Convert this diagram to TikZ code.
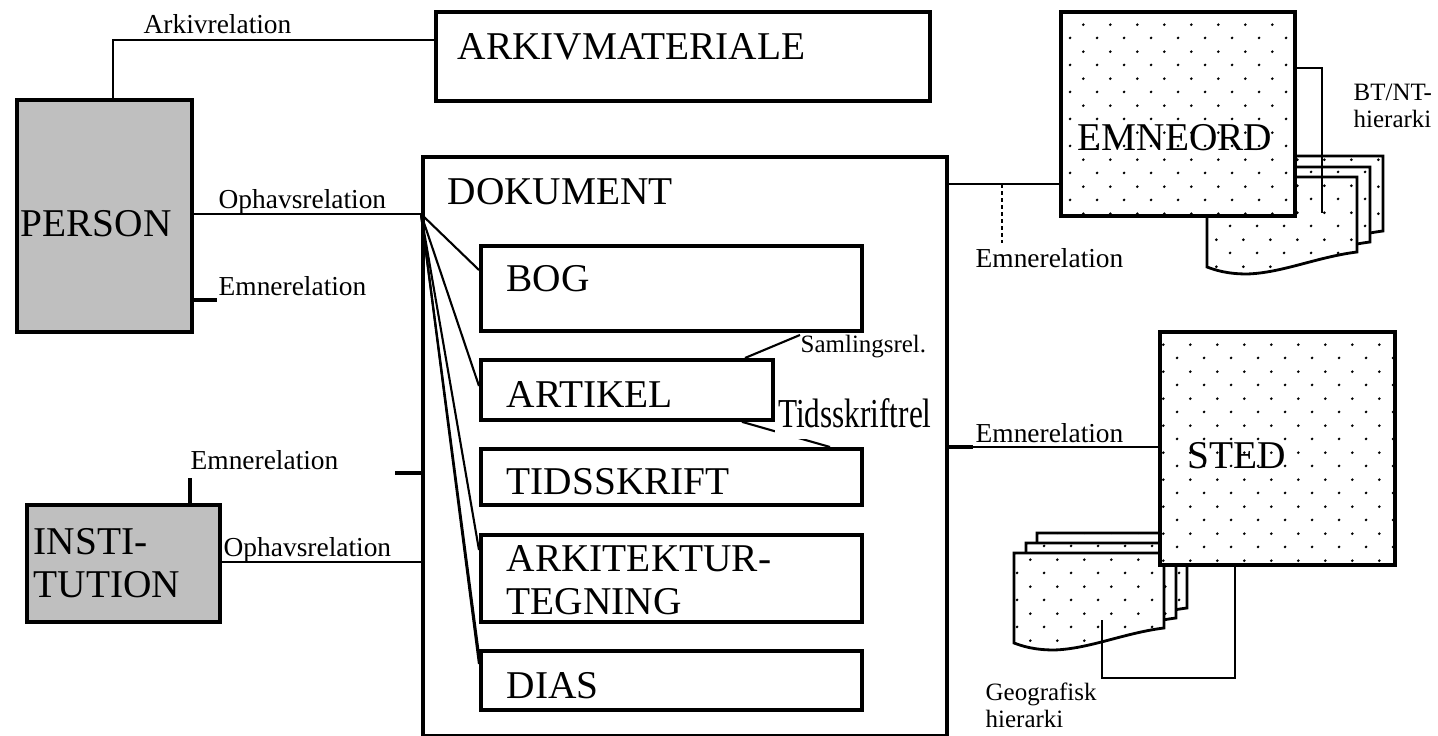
\documentclass[tikz,border=0pt]{standalone}
\usepackage{fontspec}
\setmainfont{Liberation Serif}
\newfontfamily\narrowserif[FakeStretch=0.76]{Liberation Serif}
\usetikzlibrary{patterns}

\pgfdeclarepatternformonly{sparsedots}{\pgfqpoint{0pt}{0pt}}{\pgfqpoint{7.6pt}{7.6pt}}{\pgfqpoint{7.6pt}{7.6pt}}{%
  \pgfpathcircle{\pgfqpoint{0.6pt}{0.6pt}}{0.42pt}%
  \pgfpathcircle{\pgfqpoint{4.4pt}{4.4pt}}{0.42pt}%
  \pgfusepath{fill}}

\tikzset{
  box/.style={draw,line width=1.1pt,inner sep=0pt,anchor=north west},
  actor/.style={box,fill=black!25},
  dotbox/.style={box,preaction={fill=white},pattern=sparsedots},
  bigtxt/.style={font=\fontsize{11.2}{12.5}\selectfont,inner sep=0pt,anchor=base west,align=left},
  reltxt/.style={font=\fontsize{7.8}{9}\selectfont,inner sep=0pt,anchor=base west},
  smalltxt/.style={font=\fontsize{7.1}{7.7}\selectfont,inner sep=0pt,anchor=base west,align=left},
  rel/.style={line width=0.6pt},
  stub/.style={line width=0.9pt},
  thinrel/.style={line width=0.4pt},
  docpage/.pic={\draw[line width=0.8pt,preaction={fill=white},pattern=sparsedots]
      (0,0) -- (150,0) -- (150,75) .. controls (110,80) and (75,96) .. (40,97)
      .. controls (20,97) and (8,93) .. (0,90) -- cycle;}
}

\begin{document}
\begin{tikzpicture}[x=0.1mm,y=-0.1mm]
  \useasboundingbox (0,0) rectangle (1438,736);

  % stakke bag emneord og sted
  \pic at (1233,156) {docpage};
  \pic at (1220,167) {docpage};
  \pic at (1207,177) {docpage};
  \pic at (1037,533) {docpage};
  \pic at (1026,543) {docpage};
  \pic at (1014,553) {docpage};

  \node[box,minimum width=49.4mm,minimum height=8.9mm] (arkiv) at (434,10) {};
  \node[actor,minimum width=17.5mm,minimum height=23.2mm] (person) at (15,98) {};
  \node[actor,minimum width=19.3mm,minimum height=11.7mm] (institution) at (25,503) {};
  \node[box,minimum width=52.4mm,minimum height=57.9mm] (dokument) at (421,155) {};
  \node[box,minimum width=38.1mm,minimum height=8.5mm] (bog) at (479,244) {};
  \node[box,minimum width=29.2mm,minimum height=6mm] (artikel) at (479,358) {};
  \node[box,minimum width=38.1mm,minimum height=5.6mm] (tidsskrift) at (479,447) {};
  \node[box,minimum width=38.1mm,minimum height=8.7mm] (tegning) at (479,533) {};
  \node[box,minimum width=38.1mm,minimum height=5.9mm] (dias) at (479,649) {};
  \node[dotbox,minimum width=23.4mm,minimum height=20.4mm] (emneord) at (1059,10) {};
  \node[dotbox,minimum width=23.5mm,minimum height=23.3mm] (sted) at (1158,330) {};

  \node[bigtxt] (arkivtxt) at (457,60) {ARKIVMATERIALE};
  \node[bigtxt] (persontxt) at (20,237) {PERSON};
  \node[bigtxt] (insttxt) at (33,598) {INSTI-\\TUTION};
  \node[bigtxt] (doktxt) at (447,205) {DOKUMENT};
  \node[bigtxt] (bogtxt) at (506,292) {BOG};
  \node[bigtxt] (artikeltxt) at (506,408) {ARTIKEL};
  \node[bigtxt] (tidsskrifttxt) at (506,495) {TIDSSKRIFT};
  \node[bigtxt] (tegningtxt) at (506,615) {ARKITEKTUR-\\TEGNING};
  \node[bigtxt] (diastxt) at (506,699) {DIAS};
  \node[bigtxt] (emneordtxt) at (1077,151) {EMNEORD};
  \node[bigtxt] (stedtxt) at (1187,469) {STED};

  % arkivrelation
  \draw[rel] (113,0 |- person.north) -- (113,40) -- (arkiv.west |- 0,40);
  \node[reltxt] (arkivrel) at (143,34) {Arkivrelation};

  % ophavsrelationer
  \coordinate (apex) at (421,214);
  \draw[rel] (person.east |- apex) -- (apex);
  \node[reltxt] (ophavp) at (218,209) {Ophavsrelation};
  \draw[thinrel] (institution.east |- 0,562) -- (dokument.west |- 0,562);
  \node[reltxt] (ophavi) at (223,557) {Ophavsrelation};

  % emnerelationer
  \draw[stub] (person.east |- 0,300) -- (217,300) coordinate (pemne);
  \node[reltxt] (emnep) at (218,296) {Emnerelation};
  \draw[stub] (institution.north -| 190,0) -- (190,478) coordinate (iemne);
  \node[reltxt] (emnei) at (190,470) {Emnerelation};
  \coordinate (demne) at (395,473);
  \draw[stub] (demne) -- (dokument.west |- demne);
  \draw[rel] (dokument.east |- 0,184) -- (emneord.west |- 0,184);
  \draw[rel,dash pattern=on 1pt off 1pt] (1002,184) -- (1002,243) coordinate (eemne);
  \node[reltxt] (emnee) at (975,268) {Emnerelation};
  \draw[thinrel] (dokument.east |- 0,447) -- (sted.west |- 0,447);
  \draw[stub] (dokument.east |- 0,447) -- (973,447);
  \node[reltxt] (emnes) at (975,443) {Emnerelation};

  % dokumenttyper
  \foreach \t/\y in {bog/270,artikel/386,tegning/550,dias/655,dias/664}
    \draw[rel] (apex) -- (\t.west |- 0,\y);

  % samling og tidsskrift
  \node[smalltxt] (samling) at (800,353) {Samlingsrel.};
  \draw[rel] (artikel.north -| 745,0) -- (samling.north west);
  \draw[rel] (artikel.south -| 742,0) -- (tidsskrift.north -| 830,0);
  \node[font=\narrowserif\fontsize{11.7}{13}\selectfont,fill=white,inner sep=1pt,
        text depth=2pt,anchor=base west] (tidsrel) at (774,428) {Tidsskriftrel};

  % hierarkier
  \draw[rel] (emneord.east |- 0,68) -- (1322,68) -- (1322,213) coordinate (btnt);
  \node[smalltxt] (btnttxt) at (1353,128) {BT/NT-\\hierarki};
  \draw[rel] (sted.south -| 1235,0) -- (1235,678) -- (1102,678) -- (1102,620) coordinate (geo);
  \node[smalltxt] (geotxt) at (985,728) {Geografisk\\hierarki};
\end{tikzpicture}
\end{document}
